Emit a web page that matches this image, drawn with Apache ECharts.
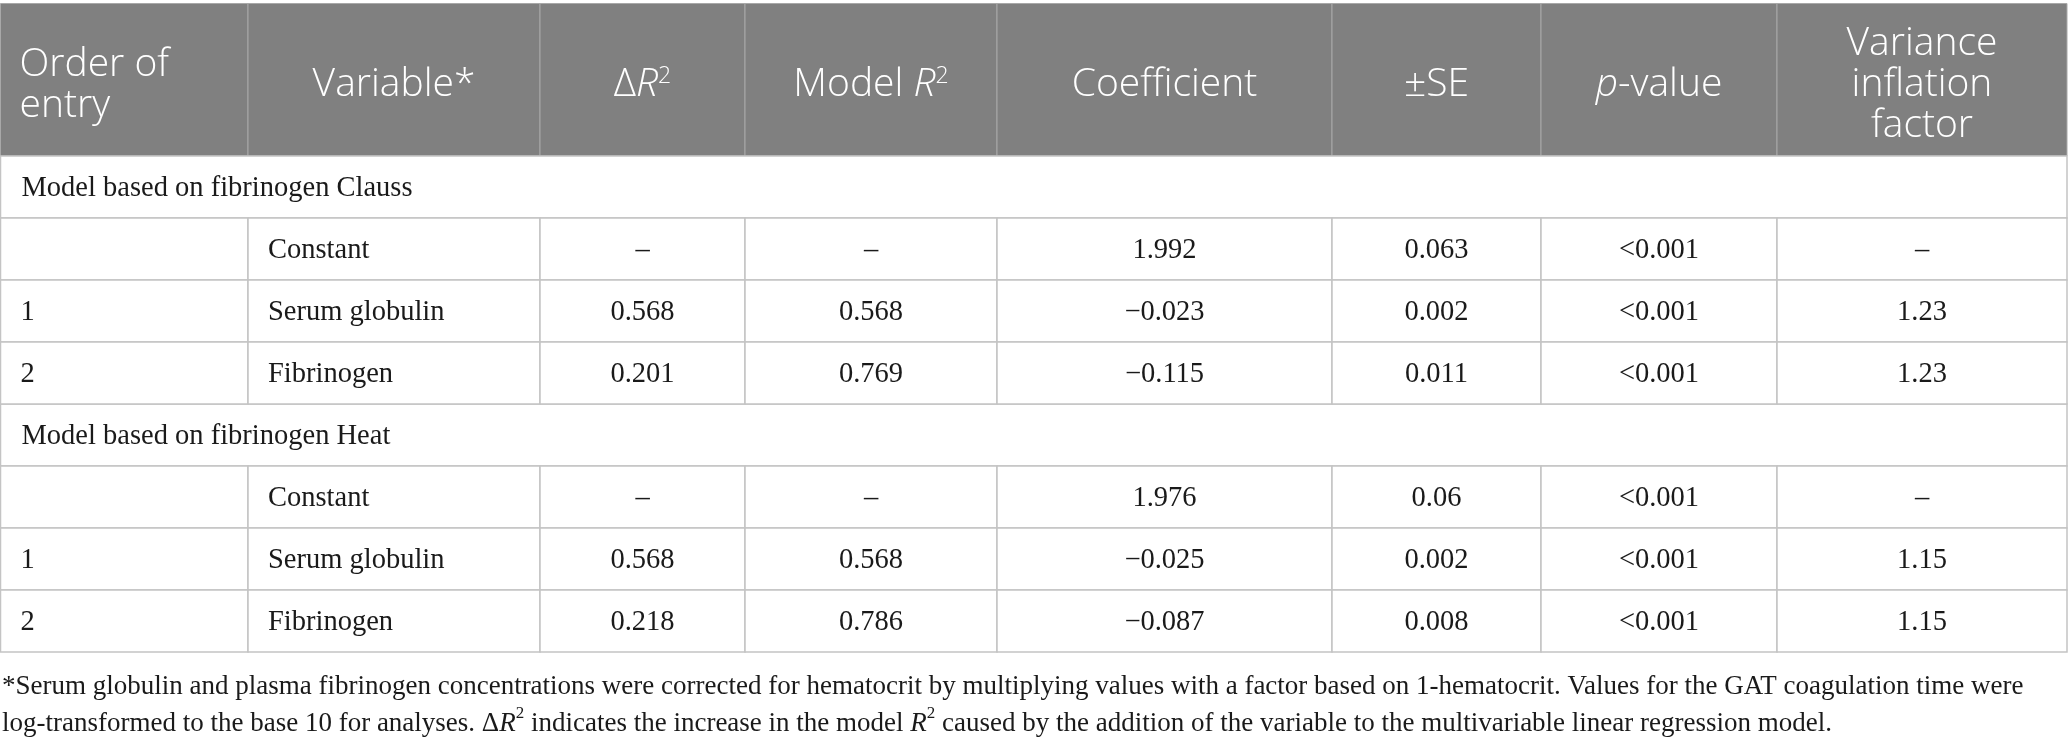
<!DOCTYPE html>
<html><head><meta charset="utf-8">
<script src="https://cdn.jsdelivr.net/npm/echarts@6/dist/echarts.min.js"></script>
<style>html,body{margin:0;padding:0;background:#fff}#c{width:2068px;height:742px}</style>
</head><body><div id="c"></div>
<script>
// ---- data ----
const headerLabels = ['Order of\nentry', 'Variable*', '{n|Δ}{i|R}{s|2}', 'Model {i|R}{s|2}', 'Coefficient', '±SE', '{i|p}-value', 'Variance\ninflation\nfactor'];
const modelTitles = ['Model based on fibrinogen Clauss', 'Model based on fibrinogen Heat'];
const orderOfEntry = ['', '1', '2'];
const variableNames = ['Constant', 'Serum globulin', 'Fibrinogen'];
const deltaR2 = [['–', '0.568', '0.201'], ['–', '0.568', '0.218']];
const modelR2 = [['–', '0.568', '0.769'], ['–', '0.568', '0.786']];
const coefficient = [['1.992', '−0.023', '−0.115'], ['1.976', '−0.025', '−0.087']];
const standardError = [['0.063', '0.002', '0.011'], ['0.06', '0.002', '0.008']];
const pValue = [['<0.001', '<0.001', '<0.001'], ['<0.001', '<0.001', '<0.001']];
const varianceInflation = [['–', '1.23', '1.23'], ['–', '1.15', '1.15']];
const footnoteLines = [
  '*Serum globulin and plasma fibrinogen concentrations were corrected for hematocrit by multiplying values with a factor based on 1-hematocrit. Values for the GAT coagulation time were',
  'log-transformed to the base 10 for analyses. Δ{i|R}{s|2} indicates the increase in the model {i|R}{s|2} caused by the addition of the variable to the multivariable linear regression model.'
];

// ---- layout ----
const W = 2068, H = 742;
const colEdges = [0.5, 248, 540, 745, 997, 1332, 1541, 1777, 2067];
const headerTop = 3.5, headerBottom = 156, rowH = 62;
const rowsPerModel = 1 + variableNames.length;
const SERIF = '"Liberation Serif", "DejaVu Serif", serif';
const SANS = '"Open Sans", "Noto Sans", sans-serif';
const bodySize = 28.5, noteSize = 27, headSize = 39, headLine = 41, headWeight = 300;
const gridColor = '#c4c4c4';
const headBg = '#808080';

function cellText(m, r, c) {
  const cols = [orderOfEntry, variableNames, deltaR2[m], modelR2[m], coefficient[m], standardError[m], pValue[m], varianceInflation[m]];
  return cols[c][r];
}
function rowTop(idx) { return headerBottom + idx * rowH; }

const headRich = {
  n: { fontFamily: SANS, fontSize: headSize, fontWeight: headWeight, color: '#fff', lineHeight: headLine },
  i: { fontFamily: SANS, fontSize: headSize, fontWeight: headWeight, fontStyle: 'italic', color: '#fff', lineHeight: headLine },
  s: { fontFamily: SANS, fontSize: 23, fontWeight: headWeight, color: '#fff', lineHeight: 26, verticalAlign: 'top' }
};

const headerData = headerLabels.map((_, i) => [i]);
const groupData = modelTitles.map((_, m) => [m]);
const cellData = [];
for (let m = 0; m < modelTitles.length; m++)
  for (let r = 0; r < variableNames.length; r++)
    for (let c = 0; c < headerLabels.length; c++) cellData.push([m, r, c]);

function renderHeader(params, api) {
  const c = api.value(0);
  const p0 = api.coord([colEdges[c], headerTop]);
  const p1 = api.coord([colEdges[c + 1], headerBottom]);
  const left = c === 0;
  return {
    type: 'group', children: [
      { type: 'rect', shape: { x: p0[0], y: p0[1], width: p1[0] - p0[0], height: p1[1] - p0[1] },
        style: { fill: headBg, stroke: '#a8a8a8', lineWidth: 1 } },
      { type: 'text', style: {
          x: left ? p0[0] + 19 : (p0[0] + p1[0]) / 2, y: (p0[1] + p1[1]) / 2 + 5.5,
          text: headerLabels[c], align: left ? 'left' : 'center', verticalAlign: 'middle',
          fontFamily: SANS, fontSize: headSize, fontWeight: headWeight, lineHeight: headLine, fill: '#fff', rich: headRich } }
    ]
  };
}

function renderGroup(params, api) {
  const m = api.value(0);
  const y = rowTop(m * rowsPerModel);
  const p0 = api.coord([colEdges[0], y]);
  const p1 = api.coord([colEdges[colEdges.length - 1], y + rowH]);
  return {
    type: 'group', children: [
      { type: 'rect', shape: { x: p0[0], y: p0[1], width: p1[0] - p0[0], height: p1[1] - p0[1] },
        style: { fill: '#fff', stroke: gridColor, lineWidth: 1.5 } },
      { type: 'text', style: { x: p0[0] + 21, y: (p0[1] + p1[1]) / 2 + 1.5, text: modelTitles[m],
          align: 'left', verticalAlign: 'middle', fontFamily: SERIF, fontSize: bodySize, fill: '#1a1a1a' } }
    ]
  };
}

function renderCell(params, api) {
  const m = api.value(0), r = api.value(1), c = api.value(2);
  const y = rowTop(m * rowsPerModel + 1 + r);
  const p0 = api.coord([colEdges[c], y]);
  const p1 = api.coord([colEdges[c + 1], y + rowH]);
  const left = c < 2;
  return {
    type: 'group', children: [
      { type: 'rect', shape: { x: p0[0], y: p0[1], width: p1[0] - p0[0], height: p1[1] - p0[1] },
        style: { fill: '#fff', stroke: gridColor, lineWidth: 1.5 } },
      { type: 'text', style: { x: left ? p0[0] + 20 : (p0[0] + p1[0]) / 2, y: (p0[1] + p1[1]) / 2 + 1.5,
          text: cellText(m, r, c), align: left ? 'left' : 'center', verticalAlign: 'middle',
          fontFamily: SERIF, fontSize: bodySize, fill: '#1a1a1a' } }
    ]
  };
}

const chart = echarts.init(document.getElementById('c'), null, { renderer: 'canvas' });
chart.setOption({
  animation: false,
  backgroundColor: '#fff',
  title: {
    text: footnoteLines.join('\n'), left: 2, top: 668, padding: 0,
    textStyle: {
      fontFamily: SERIF, fontSize: noteSize, fontWeight: 'normal', color: '#1a1a1a', lineHeight: 37,
      rich: {
        i: { fontFamily: SERIF, fontSize: noteSize, fontStyle: 'italic', color: '#1a1a1a', lineHeight: 37 },
        s: { fontFamily: SERIF, fontSize: 17, color: '#1a1a1a', lineHeight: 26, verticalAlign: 'top' }
      }
    }
  },
  grid: { left: 0, right: 0, top: 0, bottom: 0 },
  xAxis: { type: 'value', min: 0, max: W, show: false },
  yAxis: { type: 'value', min: 0, max: H, inverse: true, show: false },
  series: [
    { type: 'custom', renderItem: renderHeader, data: headerData, silent: true, clip: false },
    { type: 'custom', renderItem: renderGroup, data: groupData, silent: true, clip: false },
    { type: 'custom', renderItem: renderCell, data: cellData, silent: true, clip: false }
  ]
});
</script>
</body></html>
